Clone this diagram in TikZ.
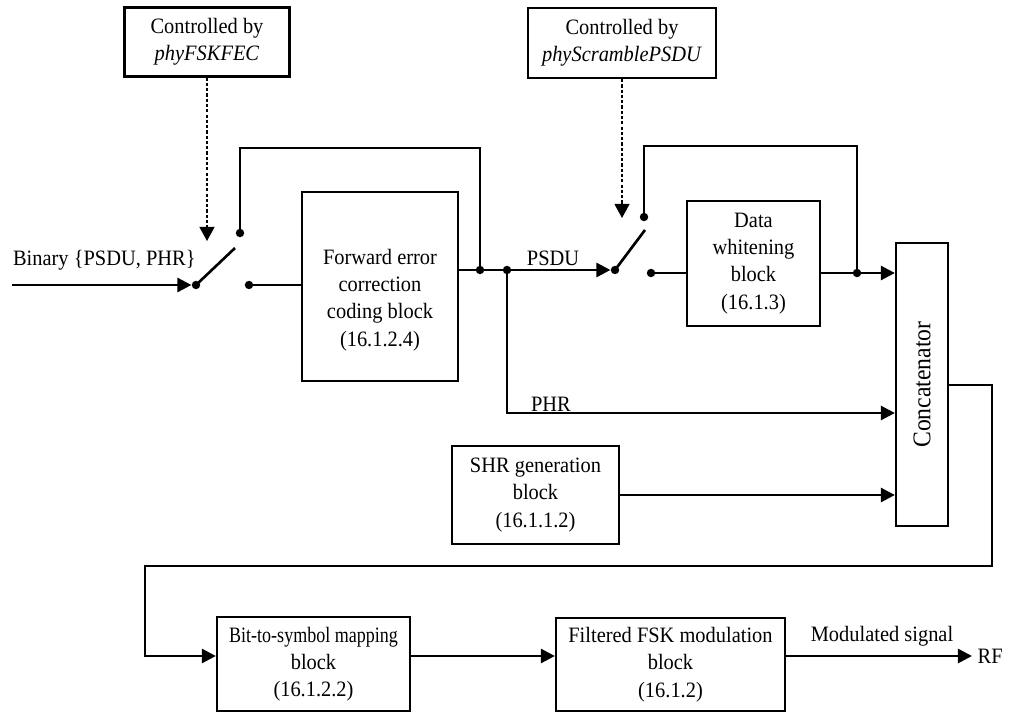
\documentclass[tikz,border=0pt]{standalone}
\usepackage{fontspec}
\setmainfont[FakeStretch=0.93]{Liberation Serif}
\newfontfamily\narrowserif[FakeStretch=0.82]{Liberation Serif}
\usetikzlibrary{arrows.meta,positioning,calc}

\tikzset{
  blk/.style={draw, line width=1.3pt, align=center, inner sep=0pt,
    font=\fontsize{12.5}{15.5}\selectfont},
  blktxt/.style={align=center, inner sep=0pt, font=\fontsize{12.5}{15.5}\selectfont},
  sig/.style={line width=1.5pt},
  sigarr/.style={sig, -{Triangle[length=8pt,width=8pt]}},
  ctrl/.style={line width=0.9pt, dash pattern=on 1.8pt off 1.2pt,
    -{Triangle[length=8pt,width=8.5pt]}},
  dot/.style={circle, fill, inner sep=0pt, minimum size=4.8pt},
  lbl/.style={font=\fontsize{12.5}{14}\selectfont, inner sep=1pt},
}

\begin{document}
\begin{tikzpicture}[x=0.02cm, y=-0.02cm]
    \useasboundingbox (0,0) rectangle (1010,713);

    % blocks
    \node [blk, minimum width=3.3cm, minimum height=1.38cm] (ctrlA) at (207,42) {Controlled by\\\textit{phyFSKFEC}};
    \node [blk, minimum width=3.76cm, minimum height=1.4cm] (ctrlB) at (622,43) {Controlled by\\\textit{phyScramblePSDU}};
    \node [blk, minimum width=3.12cm, minimum height=3.78cm] (fec) at (380,286.5) {};
    \node [blktxt] (fectxt) at (380,300) {Forward error\\correction\\coding block\\(16.1.2.4)};
    \node [blk, minimum width=2.66cm, minimum height=2.5cm] (dw) at (753.5,263.5) {Data\\whitening\\block\\(16.1.3)};
    \node [blk, minimum width=1.04cm, minimum height=5.66cm] (concat) at (922,384.5) {};
    \node [rotate=90, font=\fontsize{14.5}{17}\selectfont] (concattxt) at (concat) {Concatenator};
    \node [blk, minimum width=3.34cm, minimum height=1.96cm] (shr) at (535.5,495) {SHR generation\\block\\(16.1.1.2)};
    \node [blk, minimum width=3.86cm, minimum height=1.88cm] (bit) at (313.5,664) {{\narrowserif Bit-to-symbol mapping}\\block\\(16.1.2.2)};
    \node [blk, minimum width=4.58cm, minimum height=1.86cm] (fsk) at (670.5,664.5) {Filtered FSK modulation\\block\\(16.1.2)};

    % switch contacts and junctions
    \node [dot] (s1p) at (196,285) {};
    \node [dot] (s1a) at (240,233) {};
    \node [dot] (s1b) at (249,285) {};
    \node [dot] (j1) at (480,270) {};
    \node [dot] (j2) at (507,270) {};
    \node [dot] (s2p) at (615,270) {};
    \node [dot] (s2a) at (644,217) {};
    \node [dot] (s2b) at (651,273) {};
    \node [dot] (j3) at (857,273) {};

    \coordinate (in) at (12,285);
    \coordinate (s1tip) at (235,248);
    \coordinate (s2tip) at (645,230);
    \coordinate (loopA) at (480,148);
    \coordinate (loopB) at (857,146);
    \coordinate (phrbend) at (507,413);
    \coordinate (c1) at (992,385);
    \coordinate (c2) at (992,566);
    \coordinate (c3) at (145,566);
    \coordinate (rowb) at (0,656);
    \coordinate (ctlA) at (207,241);
    \coordinate (ctlB) at (622,218);

    % labels
    \node [lbl, anchor=west] (binlbl) at (11,260) {Binary \{PSDU, PHR\}};
    \node [lbl] (psdulbl) at (553,258) {PSDU};
    \node [lbl] (phrlbl) at (551,404) {PHR};
    \node [lbl, anchor=west, inner xsep=3pt] (rf) at (972,656) {RF};
    \node [lbl] (modlbl) at (882,636) {Modulated signal};

    % control lines
    \draw [ctrl] (ctrlA) -- (ctlA);
    \draw [ctrl] (ctrlB) -- (ctlB);

    % first switch
    \draw [sigarr] (in) -- (s1p);
    \draw [sig] (s1p.center) -- (s1tip);
    \draw [sig] (s1a.center) |- (loopA) -- (j1.center);
    \draw [sig] (s1b.center) -- (s1b -| fec.west);

    % FEC output and second switch
    \draw [sigarr] (fec.east |- j1) -- (s2p);
    \draw [sig] (s2p.center) -- (s2tip);
    \draw [sig] (s2a.center) |- (loopB) -- (j3.center);
    \draw [sig] (s2b.center) -- (s2b -| dw.west);

    % into concatenator
    \draw [sigarr] (dw.east |- j3) -- (j3 -| concat.west);
    \draw [sigarr] (j2.center) -- (phrbend) -- (phrbend -| concat.west);
    \draw [sigarr] (shr.east) -- (shr.east -| concat.west);

    % concatenator to modulation chain
    \draw [sigarr] (concat.east |- c1) -- (c1) -- (c2) -- (c3) |- (bit.west |- rowb);
    \draw [sigarr] (bit.east |- rowb) -- (fsk.west |- rowb);
    \draw [sigarr] (fsk.east |- rowb) -- (rf.west);
\end{tikzpicture}
\end{document}
